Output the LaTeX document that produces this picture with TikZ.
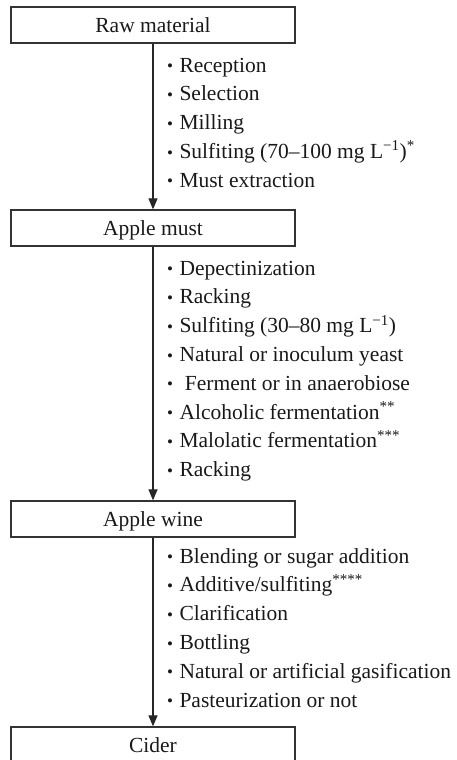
\documentclass[tikz,border=0pt]{standalone}
\usepackage{fontspec}
\setmainfont{Liberation Serif}
\usetikzlibrary{arrows.meta}
% small bullet set in front of each operation
\newcommand{\opbullet}{\makebox[13.3pt][l]{\hspace{0.8pt}\raisebox{0.3pt}{\fontsize{17}{17}\selectfont •}}}
\begin{document}
\begin{tikzpicture}[x=1pt,y=-1pt,
  stage/.style={draw=black!80, line width=1.3pt, minimum width=284pt,
    minimum height=36pt, inner sep=0pt, text height=14.5pt, text depth=0pt,
    font=\fontsize{21.5}{25}\selectfont, text=black!90},
  item/.style={anchor=base west, inner sep=0pt,
    font=\fontsize{21.5}{25}\selectfont, text=black!90},
  flow/.style={draw=black!85, line width=1.2pt,
    -{Triangle[length=11pt,width=9pt]}}]
\useasboundingbox (0,0) rectangle (457,760);

% process stages
\node[stage] (raw)   at (153,25)  {Raw material};
\node[stage] (must)  at (153,228) {Apple must};
\node[stage] (wine)  at (153,519) {Apple wine};
\node[stage] (cider) at (153,745) {Cider};

% flow between stages
\draw[flow] (raw.south)  -- (must.north);
\draw[flow] (must.south) -- (wine.north);
\draw[flow] (wine.south) -- (cider.north);

% operations: raw material -> must
\node[item] (r1) at (166,72)    {\opbullet Reception};
\node[item] (r2) at (166,100.8) {\opbullet Selection};
\node[item] (r3) at (166,129.5) {\opbullet Milling};
\node[item] (r4) at (166,158.3) {\opbullet Sulfiting (70–100 mg L\textsuperscript{−1})\textsuperscript{*}};
\node[item] (r5) at (166,187)   {\opbullet Must extraction};

% operations: must -> wine
\node[item] (m1) at (166,275)   {\opbullet Depectinization};
\node[item] (m2) at (166,303.8) {\opbullet Racking};
\node[item] (m3) at (166,332.6) {\opbullet Sulfiting (30–80 mg L\textsuperscript{−1})};
\node[item] (m4) at (166,361.4) {\opbullet Natural or inoculum yeast};
\node[item] (m5) at (166,390.2) {\opbullet\hspace{5.4pt}Ferment or in anaerobiose};
\node[item] (m6) at (166,419)   {\opbullet Alcoholic fermentation\textsuperscript{**}};
\node[item] (m7) at (166,447.8) {\opbullet Malolatic fermentation\textsuperscript{***}};
\node[item] (m8) at (166,476.6) {\opbullet Racking};

% operations: wine -> cider
\node[item] (w1) at (166,563)   {\opbullet Blending or sugar addition};
\node[item] (w2) at (166,591.8) {\opbullet Additive/sulfiting\textsuperscript{****}};
\node[item] (w3) at (166,620.6) {\opbullet Clarification};
\node[item] (w4) at (166,649.4) {\opbullet Bottling};
\node[item] (w5) at (166,678.2) {\opbullet Natural or artificial gasification};
\node[item] (w6) at (166,707)   {\opbullet Pasteurization or not};
\end{tikzpicture}
\end{document}
